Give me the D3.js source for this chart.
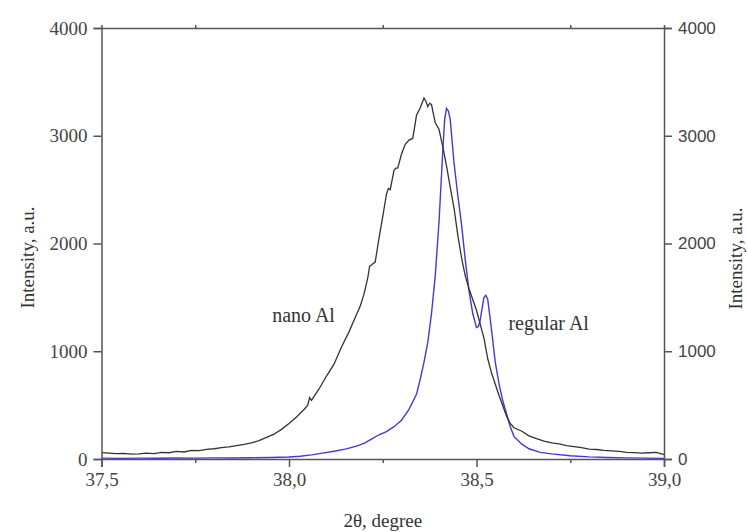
<!DOCTYPE html>
<html>
<head>
<meta charset="utf-8">
<script src="https://cdn.jsdelivr.net/npm/d3@7"></script>
<style>
  body { margin: 0; background: #fff; }
  svg { display: block; }
</style>
</head>
<body>
<div id="chart"></div>
<script>
// 2theta (deg) / intensity
let nanoX = [37.50, 37.52, 37.54, 37.56, 37.58, 37.60, 37.62, 37.64, 37.66, 37.68, 37.70, 37.72, 37.74, 37.76, 37.78,
    37.80, 37.82, 37.84, 37.86, 37.88, 37.90, 37.92, 37.94, 37.96, 37.98, 38.00, 38.02, 38.04, 38.05, 38.055, 38.06,
    38.08, 38.10, 38.12, 38.14, 38.16, 38.18, 38.19, 38.20, 38.21, 38.215, 38.22, 38.23, 38.24, 38.25, 38.26, 38.265,
    38.27, 38.28, 38.285, 38.29, 38.30, 38.31, 38.32, 38.33, 38.34, 38.35, 38.36, 38.365, 38.37, 38.375, 38.38, 38.39,
    38.40, 38.41, 38.42, 38.43, 38.44, 38.45, 38.46, 38.47, 38.48, 38.50, 38.52, 38.53, 38.54, 38.56, 38.58, 38.59,
    38.60, 38.62, 38.64, 38.66, 38.68, 38.70, 38.72, 38.74, 38.76, 38.78, 38.80, 38.82, 38.84, 38.86, 38.88, 38.90,
    38.92, 38.94, 38.96, 38.98, 39.00];
let nanoY = [60, 55, 50, 52, 45, 48, 55, 50, 62, 58, 70, 65, 80, 78, 90,
    95, 105, 112, 125, 135, 150, 170, 200, 230, 275, 330, 390, 460, 500, 570, 545,
    650, 770, 880, 1040, 1180, 1340, 1420, 1530, 1680, 1790, 1800, 1830, 2050, 2250, 2460, 2510,
    2500, 2680, 2700, 2700, 2830, 2920, 2960, 2975, 3190, 3260, 3350, 3320, 3270, 3300, 3290, 3120,
    3060, 2900, 2720, 2520, 2330, 2080, 1870, 1700, 1580, 1380, 1120, 930, 800, 590, 400, 330,
    290, 260, 215, 190, 165, 150, 140, 125, 115, 105, 92, 88, 80, 75, 70, 62,
    60, 55, 58, 62, 40];

let regularX = [37.50, 37.55, 37.60, 37.65, 37.70, 37.75, 37.80, 37.85, 37.90, 37.95, 38.00, 38.03, 38.06, 38.09,
    38.12, 38.15, 38.18, 38.20, 38.22, 38.24, 38.26, 38.28, 38.30, 38.32, 38.34, 38.35, 38.36, 38.37, 38.38, 38.39,
    38.40, 38.41, 38.415, 38.42, 38.425, 38.43, 38.44, 38.45, 38.46, 38.47, 38.48, 38.49, 38.50, 38.505, 38.51,
    38.515, 38.52, 38.525, 38.53, 38.54, 38.55, 38.56, 38.57, 38.58, 38.59, 38.60, 38.62, 38.64, 38.67, 38.70,
    38.75, 38.80, 38.85, 38.90, 38.95, 39.00];
let regularY = [8, 6, 8, 7, 9, 8, 10, 9, 12, 14, 18, 26, 38, 55,
    72, 92, 120, 145, 185, 225, 255, 300, 360, 460, 600, 740, 900, 1080, 1350, 1700,
    2200, 2850, 3150, 3255, 3230, 3150, 2750, 2450, 2180, 1850, 1560, 1350, 1220, 1230, 1290,
    1400, 1500, 1520, 1480, 1200, 900, 700, 540, 420, 300, 210, 140, 95, 62, 48,
    30, 20, 14, 10, 8, 6];

let xTicks = [37.5, 38.0, 38.5, 39.0];
let xMinor = [37.75, 38.25, 38.75];
let yTicks = [0, 1000, 2000, 3000, 4000];

let margin = { top: 28, right: 84, bottom: 73, left: 101.5 },
    width = 748 - margin.left - margin.right,
    height = 532 - margin.top - margin.bottom;

let svg = d3.select("#chart")
    .append("svg")
    .attr("width", 748)
    .attr("height", 532)
    .append("g")
    .attr("transform", "translate(" + margin.left + "," + margin.top + ")");

let x = d3.scaleLinear().domain([37.5, 39.0]).range([0, width]);
let y = d3.scaleLinear().domain([0, 4000]).range([height, 0]);

let serif = "'Liberation Serif', 'Times New Roman', serif";
let sans = "'Liberation Sans', Arial, sans-serif";
let axisColor = "#555";

// curves
let line = d3.line()
    .x(function (d) { return x(d[0]); })
    .y(function (d) { return y(d[1]); });

svg.append("path")
    .datum(regularX.map(function (v, i) { return [v, regularY[i]]; }))
    .attr("d", line)
    .attr("fill", "none")
    .attr("stroke", "#4636dc")
    .attr("stroke-width", 1.4);

svg.append("path")
    .datum(nanoX.map(function (v, i) { return [v, nanoY[i]]; }))
    .attr("d", line)
    .attr("fill", "none")
    .attr("stroke", "#333")
    .attr("stroke-width", 1.3);

// bottom axis
let xAxisG = svg.append("g")
    .attr("transform", "translate(0," + height + ")")
    .call(d3.axisBottom(x).tickValues(xTicks).tickSize(8).tickPadding(6)
        .tickFormat(function (d) { return d3.format(".1f")(d).replace(".", ","); }));
svg.append("g")
    .attr("transform", "translate(0," + height + ")")
    .call(d3.axisBottom(x).tickValues(xMinor).tickSize(4).tickFormat(""))
    .select(".domain").remove();

// top axis (mirror, no labels)
svg.append("g")
    .call(d3.axisTop(x).tickValues(xMinor).tickSize(3).tickFormat(""));

// left axis
let yAxisG = svg.append("g")
    .call(d3.axisLeft(y).tickValues(yTicks).tickSize(8).tickPadding(6).tickFormat(d3.format("d")));

// right axis
let y2AxisG = svg.append("g")
    .attr("transform", "translate(" + width + ",0)")
    .call(d3.axisRight(y).tickValues(yTicks).tickSize(8).tickPadding(6).tickFormat(d3.format("d")));

svg.selectAll(".domain, .tick line")
    .attr("stroke", axisColor)
    .attr("stroke-width", 1.5);

xAxisG.selectAll("text").attr("font-family", serif).attr("font-size", "19px").attr("fill", "#444");
yAxisG.selectAll("text").attr("font-family", serif).attr("font-size", "19px").attr("fill", "#444");
y2AxisG.selectAll("text").attr("font-family", sans).attr("font-size", "17px").attr("fill", "#444");

// axis titles
svg.append("text")
    .attr("x", x(38.25))
    .attr("y", height + 68)
    .attr("text-anchor", "middle")
    .attr("font-family", serif)
    .attr("font-size", "19px")
    .attr("fill", "#333")
    .text("2θ, degree");

svg.append("text")
    .attr("transform", "translate(" + (-68) + "," + (height / 2 + 14) + ") rotate(-90)")
    .attr("text-anchor", "middle")
    .attr("font-family", serif)
    .attr("font-size", "19px")
    .attr("fill", "#333")
    .text("Intensity, a.u.");

svg.append("text")
    .attr("transform", "translate(" + (width + 78) + "," + (height / 2 + 15) + ") rotate(-90)")
    .attr("text-anchor", "middle")
    .attr("font-family", serif)
    .attr("font-size", "19px")
    .attr("fill", "#333")
    .text("Intensity, a.u.");

// curve labels
svg.append("text")
    .attr("x", x(37.955))
    .attr("y", y(1270))
    .attr("font-family", serif)
    .attr("font-size", "20px")
    .attr("fill", "#333")
    .text("nano Al");

svg.append("text")
    .attr("x", x(38.585))
    .attr("y", y(1200))
    .attr("font-family", serif)
    .attr("font-size", "20px")
    .attr("fill", "#333")
    .text("regular Al");
</script>
</body>
</html>
